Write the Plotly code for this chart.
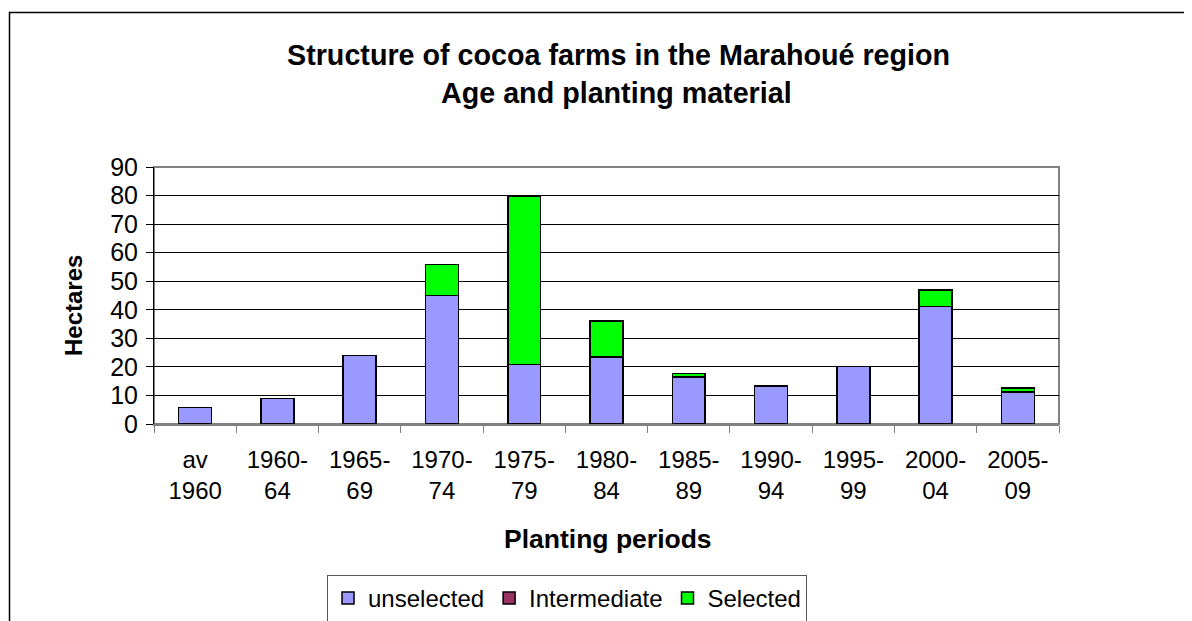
import plotly.graph_objects as go

categories = ["av<br>1960", "1960-<br>64", "1965-<br>69", "1970-<br>74", "1975-<br>79",
              "1980-<br>84", "1985-<br>89", "1990-<br>94", "1995-<br>99", "2000-<br>04", "2005-<br>09"]
unselected = [5.7, 8.9, 24.0, 45.0, 20.9, 23.4, 16.4, 13.3, 20.2, 41.2, 11.2]
intermediate = [0, 0, 0, 0, 0, 0, 0, 0, 0, 0, 0]
selected = [0, 0, 0, 10.8, 59.0, 12.7, 1.3, 0, 0, 5.7, 1.4]
y_ticks = [0, 10, 20, 30, 40, 50, 60, 70, 80, 90]

OFF = 8  # page body margin
W, H = 1192 - OFF, 621 - OFF
L, R, T, B = 154, 1059, 167, 424  # plot area edges in screenshot pixels
FONT = "Liberation Sans, Arial, sans-serif"

def px(x):
    return (x - L) / (R - L)

def py(y):
    return (B - y) / (B - T)

fig = go.Figure()
bar_line = dict(color="black", width=1.5)
fig.add_trace(go.Bar(x=categories, y=unselected, name="unselected",
                     marker=dict(color="#9999FF", line=bar_line)))
fig.add_trace(go.Bar(x=categories, y=intermediate, name="Intermediate",
                     marker=dict(color="#993366", line=bar_line)))
fig.add_trace(go.Bar(x=categories, y=selected, name="Selected",
                     marker=dict(color="#00FF00", line=bar_line)))

fig.update_layout(
    barmode="stack",
    bargap=0.6,
    width=W, height=H,
    margin=dict(l=L - OFF, r=W - (R - OFF), t=T - OFF, b=H - (B - OFF), pad=0,
                autoexpand=False),
    paper_bgcolor="white",
    plot_bgcolor="white",
    font=dict(family=FONT, color="black", size=24),
    showlegend=True,
    legend=dict(orientation="h", traceorder="normal",
                xref="container", yref="container",
                x=(567 - OFF) / W, xanchor="center",
                y=1 - (575 - OFF) / H, yanchor="top",
                bordercolor="#555555", borderwidth=1, font=dict(size=24),
                itemwidth=30, tracegroupgap=0),
)

fig.update_xaxes(
    type="category", automargin=False,
    showline=True, linecolor="#808080", linewidth=1.5,
    ticks="outside", tickson="boundaries", ticklen=7, tickcolor="#808080", tickwidth=1,
    tickfont=dict(size=24, family=FONT),
    ticklabelstandoff=13,
    showgrid=False,
)
fig.update_yaxes(
    range=[0, 90], automargin=False,
    tickvals=y_ticks,
    showline=True, linecolor="black", linewidth=1,
    ticks="outside", ticklen=7, tickcolor="black",
    tickfont=dict(size=25, family=FONT),
    ticklabelstandoff=3,
    showgrid=True, gridcolor="black", gridwidth=1,
    zeroline=False,
)

# plot area border (gray) and outer frame
fig.add_shape(type="rect", xref="paper", yref="paper", x0=0, x1=1, y0=0, y1=1,
              line=dict(color="#808080", width=2), layer="below")
fig.add_shape(type="rect", xref="paper", yref="paper",
              x0=px(9.5), x1=px(1210), y0=py(640), y1=py(12.5),
              line=dict(color="black", width=1.5), layer="below")

# titles
fig.add_annotation(text="<b>Structure of cocoa farms in the Marahoué region</b>",
                   xref="paper", yref="paper", x=px(618), y=py(55), showarrow=False,
                   xanchor="center", yanchor="middle", font=dict(size=28.7, family=FONT))
fig.add_annotation(text="<b>Age and planting material</b>",
                   xref="paper", yref="paper", x=px(616), y=py(93), showarrow=False,
                   xanchor="center", yanchor="middle", font=dict(size=28.7, family=FONT))
fig.add_annotation(text="<b>Hectares</b>", textangle=-90,
                   xref="paper", yref="paper", x=px(73), y=py(306), showarrow=False,
                   xanchor="center", yanchor="middle", font=dict(size=24, family=FONT))
fig.add_annotation(text="<b>Planting periods</b>",
                   xref="paper", yref="paper", x=px(608), y=py(539), showarrow=False,
                   xanchor="center", yanchor="middle", font=dict(size=26.5, family=FONT))

fig.write_html("out.html")
